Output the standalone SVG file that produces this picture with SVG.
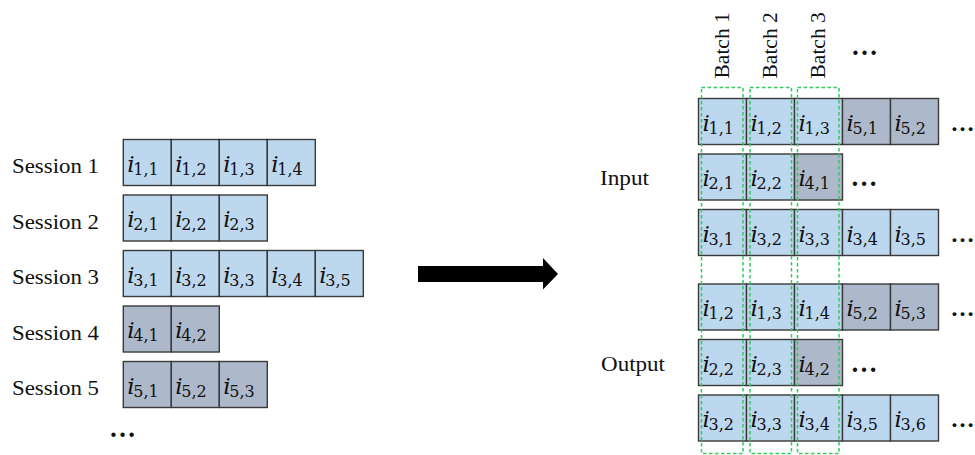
<svg xmlns="http://www.w3.org/2000/svg" width="975" height="455" viewBox="0 0 975 455">
  <style>
    .cell { stroke: #3a3a3a; stroke-width: 1.4; }
    .lt { fill: #bdd7ee; }
    .dk { fill: #adb9ca; }
    .v { font-family: "DejaVu Serif", "Liberation Serif", serif; font-style: italic; font-size: 23px; fill: #111; }
    .s { font-family: "DejaVu Serif", "Liberation Serif", serif; font-size: 16px; fill: #111; }
    .lbl { font-family: "Liberation Serif", "Times New Roman", serif; font-size: 21px; fill: #111; }
    .dots { font-family: "Liberation Serif", "Times New Roman", serif; font-size: 27px; font-weight: bold; fill: #111; }
    .edge { font-size: 24px; }
    .batch { fill: none; stroke: #2ecc5e; stroke-width: 1.5; stroke-dasharray: 3.5 2.5; }
  </style>
  <defs>
    <!-- one item cell: 48 x 46 box -->
    <rect id="box" width="48" height="46"/>
  </defs>

  <rect width="975" height="455" fill="#ffffff"/>

  <!-- session labels -->
  <g id="session-labels">
    <text class="lbl" x="12" y="173" textLength="87" lengthAdjust="spacingAndGlyphs">Session 1</text>
    <text class="lbl" x="12" y="228.5" textLength="87" lengthAdjust="spacingAndGlyphs">Session 2</text>
    <text class="lbl" x="12" y="284" textLength="87" lengthAdjust="spacingAndGlyphs">Session 3</text>
    <text class="lbl" x="12" y="339.5" textLength="87" lengthAdjust="spacingAndGlyphs">Session 4</text>
    <text class="lbl" x="12" y="395" textLength="87" lengthAdjust="spacingAndGlyphs">Session 5</text>
    <text class="dots" x="109" y="437">…</text>
  </g>

  <!-- sessions (left) -->
  <g id="session-1" transform="translate(123.3,139.5)">
    <g id="s1-1"><use href="#box" class="cell lt" x="0"/><text class="v" x="4" y="32">i</text><text class="s" x="10" y="35">1,1</text></g>
    <g id="s1-2"><use href="#box" class="cell lt" x="48"/><text class="v" x="52" y="32">i</text><text class="s" x="58" y="35">1,2</text></g>
    <g id="s1-3"><use href="#box" class="cell lt" x="96"/><text class="v" x="100" y="32">i</text><text class="s" x="106" y="35">1,3</text></g>
    <g id="s1-4"><use href="#box" class="cell lt" x="144"/><text class="v" x="148" y="32">i</text><text class="s" x="154" y="35">1,4</text></g>
  </g>
  <g id="session-2" transform="translate(123.3,195)">
    <g id="s2-1"><use href="#box" class="cell lt" x="0"/><text class="v" x="4" y="32">i</text><text class="s" x="10" y="35">2,1</text></g>
    <g id="s2-2"><use href="#box" class="cell lt" x="48"/><text class="v" x="52" y="32">i</text><text class="s" x="58" y="35">2,2</text></g>
    <g id="s2-3"><use href="#box" class="cell lt" x="96"/><text class="v" x="100" y="32">i</text><text class="s" x="106" y="35">2,3</text></g>
  </g>
  <g id="session-3" transform="translate(123.3,250.5)">
    <g id="s3-1"><use href="#box" class="cell lt" x="0"/><text class="v" x="4" y="32">i</text><text class="s" x="10" y="35">3,1</text></g>
    <g id="s3-2"><use href="#box" class="cell lt" x="48"/><text class="v" x="52" y="32">i</text><text class="s" x="58" y="35">3,2</text></g>
    <g id="s3-3"><use href="#box" class="cell lt" x="96"/><text class="v" x="100" y="32">i</text><text class="s" x="106" y="35">3,3</text></g>
    <g id="s3-4"><use href="#box" class="cell lt" x="144"/><text class="v" x="148" y="32">i</text><text class="s" x="154" y="35">3,4</text></g>
    <g id="s3-5"><use href="#box" class="cell lt" x="192"/><text class="v" x="196" y="32">i</text><text class="s" x="202" y="35">3,5</text></g>
  </g>
  <g id="session-4" transform="translate(123.3,306)">
    <g id="s4-1"><use href="#box" class="cell dk" x="0"/><text class="v" x="4" y="32">i</text><text class="s" x="10" y="35">4,1</text></g>
    <g id="s4-2"><use href="#box" class="cell dk" x="48"/><text class="v" x="52" y="32">i</text><text class="s" x="58" y="35">4,2</text></g>
  </g>
  <g id="session-5" transform="translate(123.3,361.5)">
    <g id="s5-1"><use href="#box" class="cell dk" x="0"/><text class="v" x="4" y="32">i</text><text class="s" x="10" y="35">5,1</text></g>
    <g id="s5-2"><use href="#box" class="cell dk" x="48"/><text class="v" x="52" y="32">i</text><text class="s" x="58" y="35">5,2</text></g>
    <g id="s5-3"><use href="#box" class="cell dk" x="96"/><text class="v" x="100" y="32">i</text><text class="s" x="106" y="35">5,3</text></g>
  </g>

  <!-- transformation arrow -->
  <g id="connectors">
    <polygon points="418,266 543,266 543,258 558,274 543,289.5 543,282 418,282" fill="#000"/>
  </g>

  <!-- input / output labels -->
  <g id="io-labels">
    <text class="lbl" x="600" y="185" textLength="49" lengthAdjust="spacingAndGlyphs">Input</text>
    <text class="lbl" x="601" y="371" textLength="64" lengthAdjust="spacingAndGlyphs">Output</text>
  </g>

  <!-- batch headers -->
  <g id="batch-labels">
    <text class="lbl" transform="translate(728.5,78.5) rotate(-90)" style="font-size:21.5px">Batch 1</text>
    <text class="lbl" transform="translate(777,78.5) rotate(-90)" style="font-size:21.5px">Batch 2</text>
    <text class="lbl" transform="translate(825,78.5) rotate(-90)" style="font-size:21.5px">Batch 3</text>
    <text class="dots" x="851" y="55">…</text>
  </g>

  <!-- input rows -->
  <g id="input-1" transform="translate(698.5,98.5)">
    <g id="in1-1"><use href="#box" class="cell lt" x="0"/><text class="v" x="4" y="32">i</text><text class="s" x="10" y="35">1,1</text></g>
    <g id="in1-2"><use href="#box" class="cell lt" x="48"/><text class="v" x="52" y="32">i</text><text class="s" x="58" y="35">1,2</text></g>
    <g id="in1-3"><use href="#box" class="cell lt" x="96"/><text class="v" x="100" y="32">i</text><text class="s" x="106" y="35">1,3</text></g>
    <g id="in1-4"><use href="#box" class="cell dk" x="144"/><text class="v" x="148" y="32">i</text><text class="s" x="154" y="35">5,1</text></g>
    <g id="in1-5"><use href="#box" class="cell dk" x="192"/><text class="v" x="196" y="32">i</text><text class="s" x="202" y="35">5,2</text></g>
    <text class="dots edge" x="252" y="32">…</text>
  </g>
  <g id="input-2" transform="translate(698.5,154)">
    <g id="in2-1"><use href="#box" class="cell lt" x="0"/><text class="v" x="4" y="32">i</text><text class="s" x="10" y="35">2,1</text></g>
    <g id="in2-2"><use href="#box" class="cell lt" x="48"/><text class="v" x="52" y="32">i</text><text class="s" x="58" y="35">2,2</text></g>
    <g id="in2-3"><use href="#box" class="cell dk" x="96"/><text class="v" x="100" y="32">i</text><text class="s" x="106" y="35">4,1</text></g>
    <text class="dots" x="152" y="32">…</text>
  </g>
  <g id="input-3" transform="translate(698.5,209.5)">
    <g id="in3-1"><use href="#box" class="cell lt" x="0"/><text class="v" x="4" y="32">i</text><text class="s" x="10" y="35">3,1</text></g>
    <g id="in3-2"><use href="#box" class="cell lt" x="48"/><text class="v" x="52" y="32">i</text><text class="s" x="58" y="35">3,2</text></g>
    <g id="in3-3"><use href="#box" class="cell lt" x="96"/><text class="v" x="100" y="32">i</text><text class="s" x="106" y="35">3,3</text></g>
    <g id="in3-4"><use href="#box" class="cell lt" x="144"/><text class="v" x="148" y="32">i</text><text class="s" x="154" y="35">3,4</text></g>
    <g id="in3-5"><use href="#box" class="cell lt" x="192"/><text class="v" x="196" y="32">i</text><text class="s" x="202" y="35">3,5</text></g>
    <text class="dots edge" x="252" y="32">…</text>
  </g>

  <!-- output rows -->
  <g id="output-1" transform="translate(698.5,284)">
    <g id="out1-1"><use href="#box" class="cell lt" x="0"/><text class="v" x="4" y="32">i</text><text class="s" x="10" y="35">1,2</text></g>
    <g id="out1-2"><use href="#box" class="cell lt" x="48"/><text class="v" x="52" y="32">i</text><text class="s" x="58" y="35">1,3</text></g>
    <g id="out1-3"><use href="#box" class="cell lt" x="96"/><text class="v" x="100" y="32">i</text><text class="s" x="106" y="35">1,4</text></g>
    <g id="out1-4"><use href="#box" class="cell dk" x="144"/><text class="v" x="148" y="32">i</text><text class="s" x="154" y="35">5,2</text></g>
    <g id="out1-5"><use href="#box" class="cell dk" x="192"/><text class="v" x="196" y="32">i</text><text class="s" x="202" y="35">5,3</text></g>
    <text class="dots edge" x="252" y="32">…</text>
  </g>
  <g id="output-2" transform="translate(698.5,339.5)">
    <g id="out2-1"><use href="#box" class="cell lt" x="0"/><text class="v" x="4" y="32">i</text><text class="s" x="10" y="35">2,2</text></g>
    <g id="out2-2"><use href="#box" class="cell lt" x="48"/><text class="v" x="52" y="32">i</text><text class="s" x="58" y="35">2,3</text></g>
    <g id="out2-3"><use href="#box" class="cell dk" x="96"/><text class="v" x="100" y="32">i</text><text class="s" x="106" y="35">4,2</text></g>
    <text class="dots" x="152" y="32">…</text>
  </g>
  <g id="output-3" transform="translate(698.5,395)">
    <g id="out3-1"><use href="#box" class="cell lt" x="0"/><text class="v" x="4" y="32">i</text><text class="s" x="10" y="35">3,2</text></g>
    <g id="out3-2"><use href="#box" class="cell lt" x="48"/><text class="v" x="52" y="32">i</text><text class="s" x="58" y="35">3,3</text></g>
    <g id="out3-3"><use href="#box" class="cell lt" x="96"/><text class="v" x="100" y="32">i</text><text class="s" x="106" y="35">3,4</text></g>
    <g id="out3-4"><use href="#box" class="cell lt" x="144"/><text class="v" x="148" y="32">i</text><text class="s" x="154" y="35">3,5</text></g>
    <g id="out3-5"><use href="#box" class="cell lt" x="192"/><text class="v" x="196" y="32">i</text><text class="s" x="202" y="35">3,6</text></g>
    <text class="dots edge" x="252" y="32">…</text>
  </g>

  <!-- dashed batch columns -->
  <g id="batches">
    <rect class="batch" x="701.5" y="87.5" width="41.5" height="366"/>
    <rect class="batch" x="750" y="87.5" width="41.5" height="366"/>
    <rect class="batch" x="797.5" y="87.5" width="41.5" height="366"/>
  </g>
</svg>
